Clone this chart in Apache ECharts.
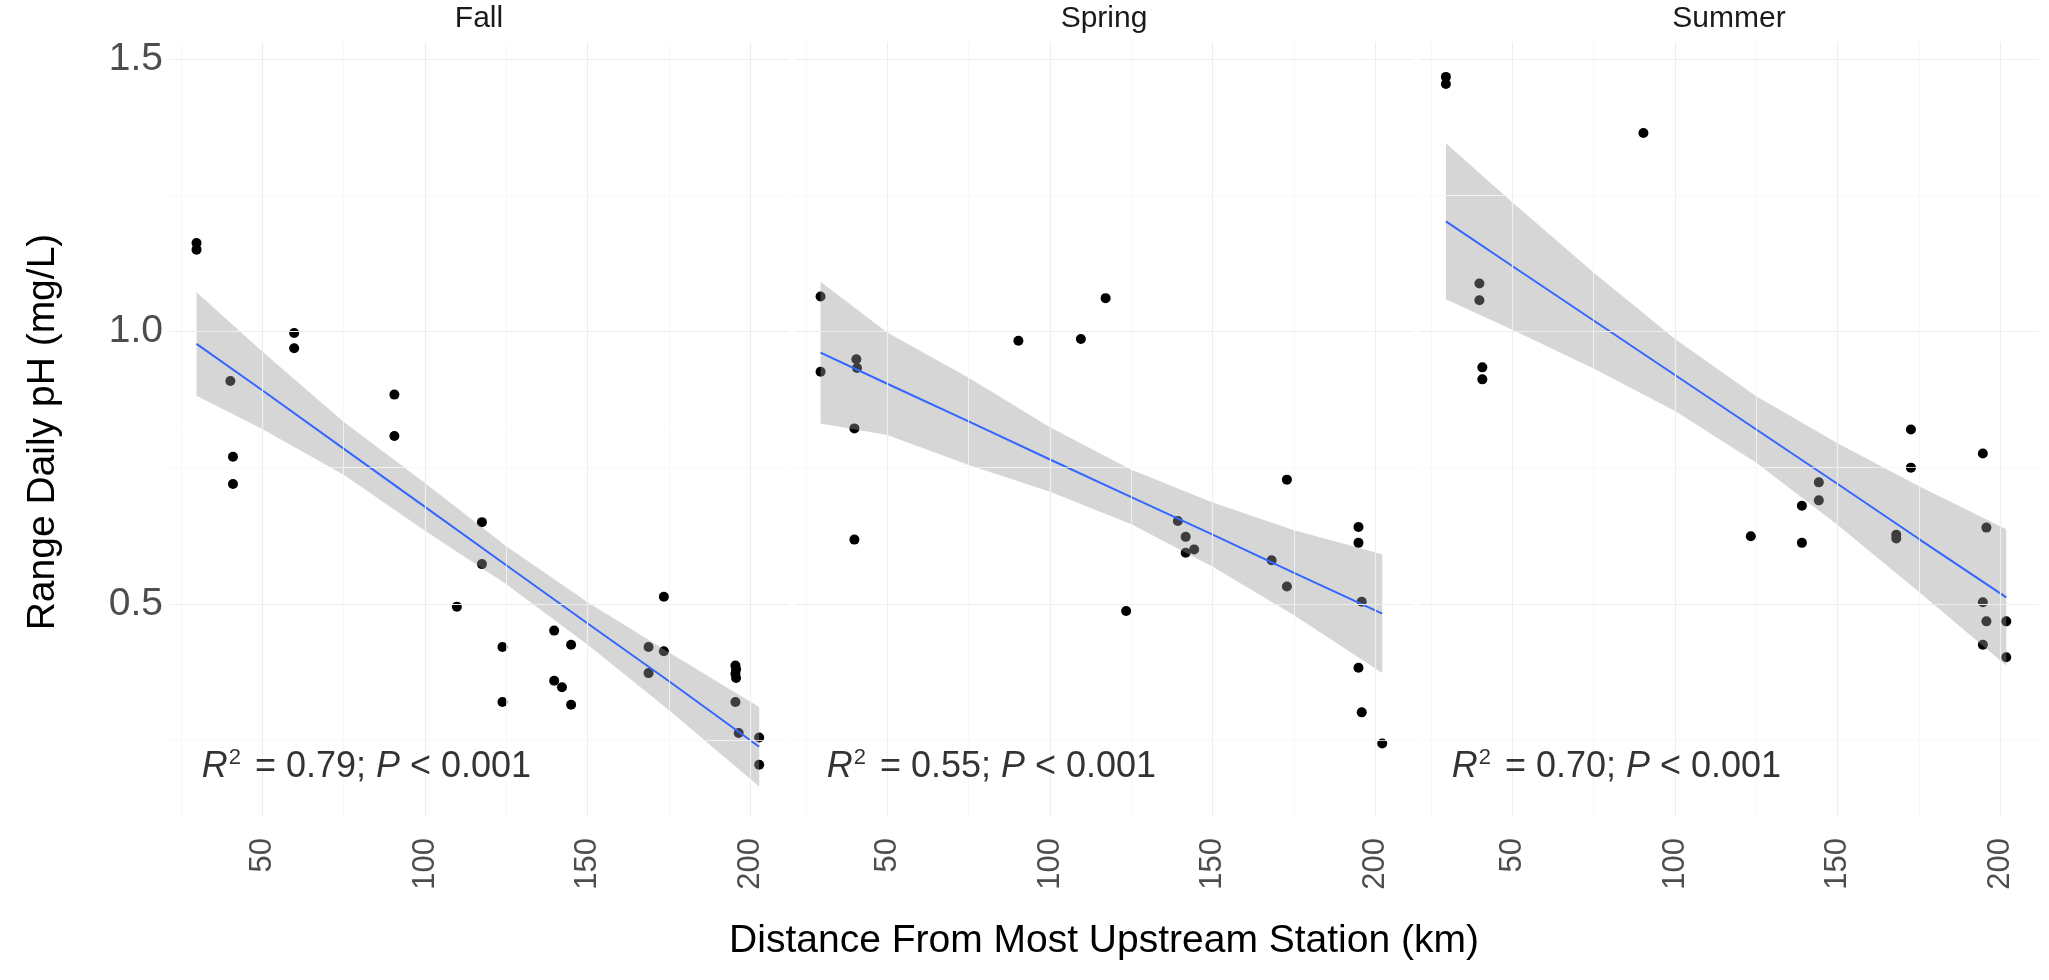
<!DOCTYPE html>
<html>
<head>
<meta charset="utf-8">
<script src="https://cdn.jsdelivr.net/npm/echarts@6/dist/echarts.min.js"></script>
<style>
html,body{margin:0;padding:0;background:#fff;}
#chart{width:2049px;height:980px;}
</style>
</head>
<body>
<div id="chart"></div>
<script>
// ---------- DATA ----------
const panels = ['Fall', 'Spring', 'Summer'];
const annotations = ['0.79', '0.55', '0.70'];
const annotX = 82, annotY = 0.2;

const xTicks = [50, 100, 150, 200];
const xMinor = [25, 75, 125, 175];
const yTicks = [0.5, 1.0, 1.5];
const yMinor = [0.25, 0.75, 1.25];
const X_MIN = 21.34, X_MAX = 211.86;
const Y_MIN = 0.109, Y_MAX = 1.531;

const fallPoints = [
  [29.8,1.162],[29.8,1.150],
  [40.2,0.909],[41.0,0.770],[41.0,0.720],
  [59.8,0.997],[59.8,0.969],
  [90.6,0.884],[90.6,0.808],
  [109.8,0.495],
  [117.5,0.650],[117.5,0.573],
  [123.8,0.421],[123.8,0.320],
  [139.7,0.451],[139.7,0.359],[142.1,0.347],
  [144.9,0.425],[144.9,0.315],
  [168.7,0.421],[168.7,0.373],
  [173.4,0.413],[173.4,0.513],
  [195.4,0.387],[195.6,0.380],[195.4,0.372],[195.6,0.364],
  [195.4,0.320],
  [196.4,0.263],
  [202.7,0.255],[202.7,0.205]
];
const springPoints = [
  [29.5,1.064],[29.5,0.926],
  [40.5,0.949],[40.7,0.933],[39.9,0.822],[39.9,0.618],
  [90.3,0.983],[109.5,0.986],[117.1,1.061],
  [123.4,0.487],
  [139.3,0.652],[141.7,0.623],[141.7,0.594],[144.3,0.600],
  [168.1,0.580],[172.8,0.532],[172.8,0.728],
  [194.8,0.641],[194.8,0.612],[195.8,0.504],[194.8,0.383],[195.8,0.301],
  [202.1,0.244]
];
const summerPoints = [
  [29.6,1.467],[29.6,1.454],
  [39.9,1.088],[39.9,1.057],[40.8,0.934],[40.8,0.912],
  [90.3,1.364],
  [123.3,0.624],
  [139.0,0.680],[139.0,0.612],
  [144.2,0.723],[144.2,0.690],
  [168.0,0.627],[168.0,0.620],
  [172.5,0.820],[172.5,0.750],
  [194.6,0.776],[195.7,0.640],[194.6,0.503],[195.7,0.468],[194.6,0.425],
  [201.8,0.468],[201.8,0.402]
];

// fitted line and 95% band
const fallFitX   = [29.8, 50, 75, 100, 125, 150, 175, 202.7];
const fallFit    = [0.977, 0.892, 0.785, 0.678, 0.571, 0.464, 0.358, 0.238];
const fallLower  = [0.882, 0.821, 0.737, 0.634, 0.536, 0.425, 0.305, 0.165];
const fallUpper  = [1.072, 0.963, 0.834, 0.722, 0.606, 0.503, 0.411, 0.311];

const springFitX  = [29.5, 50, 75, 100, 125, 150, 175, 202.1];
const springFit   = [0.961, 0.904, 0.835, 0.765, 0.696, 0.627, 0.557, 0.482];
const springLower = [0.831, 0.810, 0.755, 0.706, 0.646, 0.568, 0.479, 0.373];
const springUpper = [1.091, 0.998, 0.915, 0.824, 0.746, 0.686, 0.635, 0.591];

const summerFitX  = [29.6, 50, 75, 100, 125, 150, 175, 201.8];
const summerFit   = [1.202, 1.120, 1.020, 0.920, 0.820, 0.720, 0.619, 0.512];
const summerLower = [1.059, 1.003, 0.932, 0.854, 0.759, 0.645, 0.522, 0.387];
const summerUpper = [1.345, 1.237, 1.108, 0.986, 0.881, 0.795, 0.716, 0.637];

const panelData = [
  {pts: fallPoints,   fx: fallFitX,   f: fallFit,   lo: fallLower,   up: fallUpper},
  {pts: springPoints, fx: springFitX, f: springFit, lo: springLower, up: springUpper},
  {pts: summerPoints, fx: summerFitX, f: summerFit, lo: summerLower, up: summerUpper}
];

// ---------- LAYOUT ----------
const FONT = "'Liberation Sans', Arial, Helvetica, sans-serif";
const gridLefts = [169, 794, 1419];
const GRID_W = 620, GRID_TOP = 42, GRID_H = 775;

const grids = [], xAxes = [], yAxes = [], series = [];
panels.forEach((name, i) => {
  grids.push({left: gridLefts[i], top: GRID_TOP, width: GRID_W, height: GRID_H});
  xAxes.push({
    type: 'value', gridIndex: i, min: X_MIN, max: X_MAX,
    axisLine: {show: false}, axisTick: {show: false}, splitLine: {show: false},
    axisLabel: {customValues: xTicks, rotate: 90, fontSize: 31, color: '#4d4d4d',
                margin: 21, fontFamily: FONT}
  });
  yAxes.push({
    type: 'value', gridIndex: i, min: Y_MIN, max: Y_MAX,
    axisLine: {show: false}, axisTick: {show: false}, splitLine: {show: false},
    axisLabel: {show: i === 0, customValues: yTicks, fontSize: 39, color: '#4d4d4d',
                margin: 6, fontFamily: FONT, formatter: v => v.toFixed(1)}
  });
  const majorStyle = {color: '#eeeeee', width: 1.2, type: 'solid'};
  const minorStyle = {color: '#f6f6f6', width: 0.8, type: 'solid'};
  series.push({
    type: 'scatter', xAxisIndex: i, yAxisIndex: i, data: [], silent: true, z: 0,
    markLine: {
      silent: true, symbol: ['none', 'none'], label: {show: false}, animation: false,
      data: [
        ...xMinor.map(v => ({xAxis: v, lineStyle: minorStyle})),
        ...yMinor.map(v => ({yAxis: v, lineStyle: minorStyle})),
        ...xTicks.map(v => ({xAxis: v, lineStyle: majorStyle})),
        ...yTicks.map(v => ({yAxis: v, lineStyle: majorStyle}))
      ]
    }
  });
  const d = panelData[i];
  series.push({
    type: 'scatter', xAxisIndex: i, yAxisIndex: i, data: d.pts,
    symbolSize: 10, itemStyle: {color: '#000000', opacity: 1}, z: 2, silent: true
  });
  series.push({
    type: 'custom', xAxisIndex: i, yAxisIndex: i, z: 3, silent: true,
    data: [[d.fx[0], d.lo[0]]],
    renderItem: (params, api) => {
      const top = d.fx.map((x, k) => api.coord([x, d.up[k]]));
      const bot = d.fx.map((x, k) => api.coord([x, d.lo[k]])).reverse();
      return {type: 'polygon', shape: {points: top.concat(bot)},
              style: {fill: 'rgba(153,153,153,0.4)'}};
    }
  });
  series.push({
    type: 'line', xAxisIndex: i, yAxisIndex: i, z: 4, silent: true,
    data: d.fx.map((x, k) => [x, d.f[k]]),
    showSymbol: false, symbol: 'none',
    lineStyle: {color: '#3366FF', width: 2}
  });
  series.push({
    type: 'scatter', xAxisIndex: i, yAxisIndex: i, z: 5, silent: true,
    data: [[annotX, annotY]], symbolSize: 0,
    label: {
      show: true, position: 'inside', fontFamily: FONT,
      formatter: '{i|R}{s|2}{n| = ' + annotations[i] + '; }{i|P}{n| < 0.001}',
      rich: {
        i: {fontStyle: 'italic', fontSize: 36, color: '#000', fontFamily: FONT, lineHeight: 40},
        n: {fontSize: 36, color: '#000', fontFamily: FONT, lineHeight: 40},
        s: {fontSize: 22, color: '#000', fontFamily: FONT, lineHeight: 22, verticalAlign: 'top', padding: [0, 4, 0, 1]}
      }
    }
  });
});

const graphics = [];
panels.forEach((name, i) => {
  graphics.push({
    type: 'text', x: gridLefts[i] + GRID_W / 2, y: 19, silent: true,
    style: {text: name, fontSize: 30, fontFamily: FONT, fill: '#1a1a1a',
            textAlign: 'center', textVerticalAlign: 'middle'}
  });
});
graphics.push({
  type: 'text', x: (gridLefts[0] + gridLefts[2] + GRID_W) / 2, y: 941, silent: true,
  style: {text: 'Distance From Most Upstream Station (km)', fontSize: 39, fontFamily: FONT,
          fill: '#000', textAlign: 'center', textVerticalAlign: 'middle'}
});
graphics.push({
  type: 'text', x: 43, y: 432, rotation: Math.PI / 2, silent: true,
  style: {text: 'Range Daily pH (mg/L)', fontSize: 39, fontFamily: FONT,
          fill: '#000', textAlign: 'center', textVerticalAlign: 'middle'}
});

const chart = echarts.init(document.getElementById('chart'), null, {renderer: 'canvas'});
chart.setOption({
  animation: false,
  backgroundColor: '#ffffff',
  grid: grids, xAxis: xAxes, yAxis: yAxes, series: series,
  graphic: graphics
});
</script>
</body>
</html>
